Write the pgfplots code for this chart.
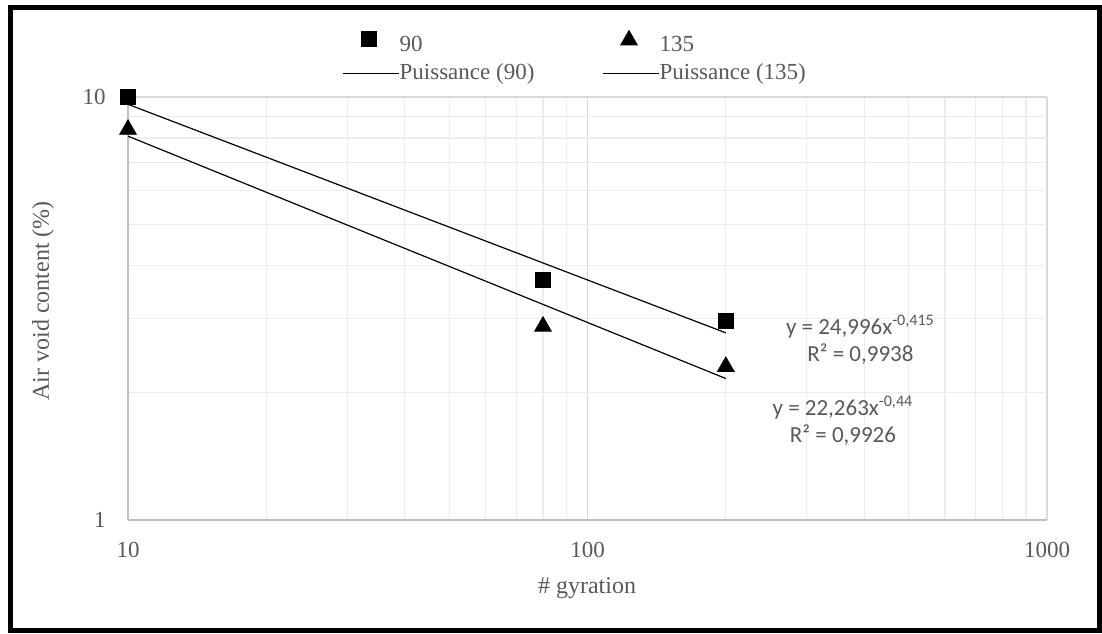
\documentclass[border=0pt]{standalone}
\usepackage{fontspec}
\setmainfont{Liberation Serif}
\newfontfamily\carlito{Carlito}
\usepackage{pgfplots}
\pgfplotsset{compat=1.18}
\definecolor{txt}{HTML}{595959}
\definecolor{majgrid}{HTML}{D9D9D9}
\definecolor{mingrid}{HTML}{EDEDED}
\definecolor{axline}{HTML}{BFBFBF}
\begin{document}
\begin{tikzpicture}[x=1pt,y=1pt]
\path[use as bounding box] (0,0) rectangle (551,316.5);
\draw[line width=2.5pt] (5.25,1.25) rectangle (549.75,312.5);
\begin{axis}[
  at={(64pt,56.5pt)}, anchor=south west,
  scale only axis, width=459.5pt, height=211.5pt,
  xmode=log, ymode=log,
  xmin=10, xmax=1000, ymin=1, ymax=10,
  xtick={10,100,1000}, xticklabels={10,100,1000},
  ytick={1,10}, yticklabels={1,10},
  minor xtick={20,30,40,50,60,70,80,90,200,300,400,500,600,700,800,900},
  minor ytick={2,3,4,5,6,7,8,9},
  major tick length=0pt, minor tick length=0pt,
  /pgf/number format/assume math mode=true,
  tick label style={font=\fontsize{11.5}{13}\selectfont, text=txt, inner sep=0pt},
  xticklabel style={anchor=north, yshift=-11pt},
  yticklabel style={anchor=east, xshift=-11pt},
  axis x line*=bottom, axis y line*=left,
  axis line style={axline, line width=0.6pt, -},
  grid=both,
  major grid style={majgrid, line width=0.6pt},
  minor grid style={mingrid, line width=0.6pt},
  legend columns=2,
  legend image code/.code={\draw[mark repeat=2, mark phase=2, #1] plot coordinates {(0pt,0pt) (13pt,0pt) (28pt,0pt)};},
  legend style={draw=none, fill=none, inner sep=0pt, column sep=0pt, row sep=2pt,
    at={(0.2329,1.158)}, anchor=north west,
    font=\fontsize{11.5}{13}\selectfont, text=txt,
    nodes={inner sep=0pt, text height=9pt, text depth=3pt},
    /tikz/every even column/.append style={column sep=34pt}},
  legend cell align=left,
]
\addplot[only marks, mark=square*, mark size=3.75pt, black,
  legend image post style={yshift=3.3pt}]
  coordinates {(10,10.0) (80,3.70) (200,2.954)};
\addlegendentry{90}
\addplot[only marks, mark=triangle*, mark size=4.8pt, black,
  legend image post style={yshift=2.5pt}]
  coordinates {(10,8.38) (80,2.87) (200,2.305)};
\addlegendentry{135}
\addplot[black, line width=0.6pt, no marks]
  coordinates {(10,9.61) (200,2.77)};
\addlegendentry{Puissance (90)}
\addplot[black, line width=0.6pt, no marks]
  coordinates {(10,8.08) (200,2.16)};
\addlegendentry{Puissance (135)}
\node[align=center, text=txt, font=\carlito\fontsize{11.5}{13.5}\selectfont]
  at (rel axis cs:0.797,0.426) {y = 24,996x\textsuperscript{-0,415}\\R² = 0,9938};
\node[align=center, text=txt, font=\carlito\fontsize{11.5}{13.5}\selectfont]
  at (rel axis cs:0.778,0.234) {y = 22,263x\textsuperscript{-0,44}\\R² = 0,9926};
\end{axis}
\node[text=txt, font=\fontsize{12}{14}\selectfont] at (293.5,22.5) {\# gyration};
\node[text=txt, font=\fontsize{12}{14}\selectfont, rotate=90] at (21.5,166) {Air void content (\%)};
\end{tikzpicture}
\end{document}
